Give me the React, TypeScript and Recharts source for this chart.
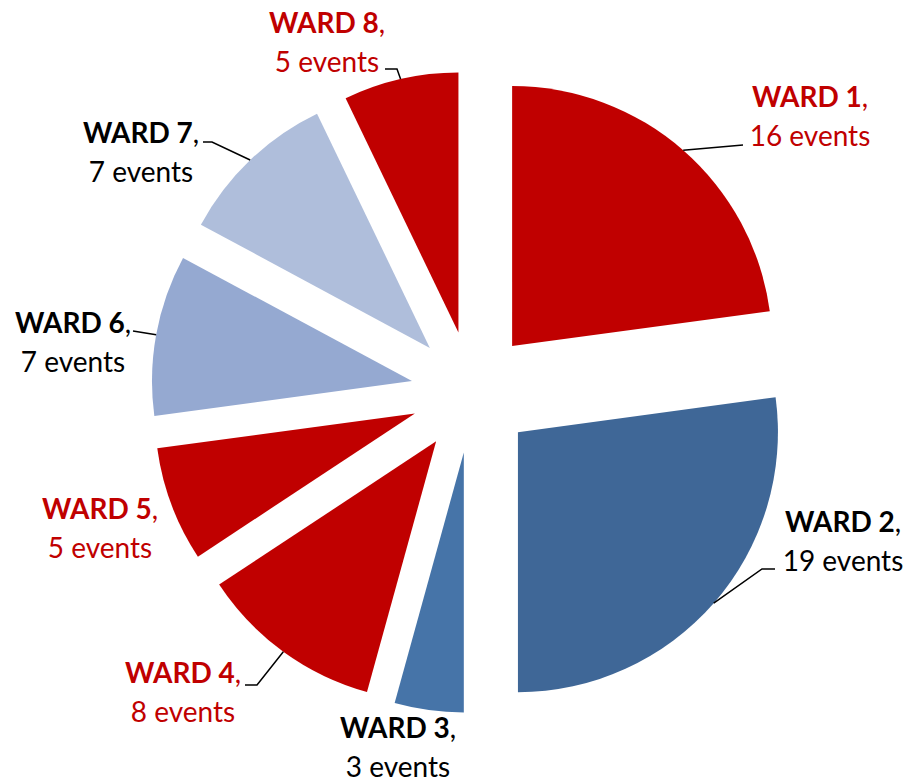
import { PieChart, Pie, Cell, Sector } from "recharts";

const wards = ["WARD 1", "WARD 2", "WARD 3", "WARD 4", "WARD 5", "WARD 6", "WARD 7", "WARD 8"];
const events = [16, 19, 3, 8, 5, 7, 7, 5];

const sliceColors = ["#C00000", "#3F6797", "#4674A8", "#C00000", "#C00000", "#95A9D1", "#AFBEDB", "#C00000"];
const labelColors = ["#C00000", "#000000", "#000000", "#C00000", "#C00000", "#000000", "#000000", "#C00000"];

// label first-line baseline, relative to the pie centre
const labelSpots = [
  [338, -285], [371, 140], [-74, 346], [-289, 291],
  [-372, 127], [-399, -59], [-331, -249], [-145, -359],
];
// leader line points after the slice edge, relative to the pie centre
const leaderPaths: number[][][] = [
  [[271, -247]],
  [[290, 177], [303, 177]],
  [],
  [[-215, 293], [-227, 293]],
  [],
  [[-339, -61]],
  [[-260, -250], [-269, -250]],
  [[-75, -323], [-87, -323]],
];

const data = wards.map((name, i) => ({ name, events: events[i] }));

const EXPLODE = 61;
const RAD = Math.PI / 180;

function ExplodedSlice(props: any) {
  const { cx, cy, midAngle, innerRadius, outerRadius, startAngle, endAngle, fill } = props;
  const dx = EXPLODE * Math.cos(-midAngle * RAD);
  const dy = EXPLODE * Math.sin(-midAngle * RAD);
  return (
    <Sector
      cx={cx + dx}
      cy={cy + dy}
      innerRadius={innerRadius}
      outerRadius={outerRadius}
      startAngle={startAngle}
      endAngle={endAngle}
      fill={fill}
      stroke="none"
    />
  );
}

function WardLabel(props: any) {
  const { cx, cy, midAngle, outerRadius, index, payload } = props;
  const ux = Math.cos(-midAngle * RAD);
  const uy = Math.sin(-midAngle * RAD);
  const sx = cx + (EXPLODE + outerRadius) * ux;
  const sy = cy + (EXPLODE + outerRadius) * uy;
  const [lx, ly] = labelSpots[index];
  const rest = leaderPaths[index].map(([x, y]) => `${cx + x},${cy + y}`);
  const tx = cx + lx;
  return (
    <g>
      {rest.length > 0 && (
        <polyline points={[`${sx},${sy}`, ...rest].join(" ")} fill="none" stroke="#000" strokeWidth={1.5} />
      )}
      <text x={tx} y={cy + ly} textAnchor="middle" fill={labelColors[index]} fontFamily="Lato" fontSize={28}>
        <tspan fontWeight="bold">{payload.name}</tspan>
        <tspan>,</tspan>
        <tspan x={tx} dy={39}>{payload.events} events</tspan>
      </text>
    </g>
  );
}

export default function App() {
  return (
    <div style={{ position: "absolute", left: 0, top: 0, background: "#fff" }}>
      <PieChart width={908} height={782} margin={{ top: 0, right: 0, bottom: 0, left: 0 }}>
        <Pie
          data={data}
          dataKey="events"
          nameKey="name"
          cx={472}
          cy={392}
          outerRadius={260}
          startAngle={90}
          endAngle={-270}
          stroke="none"
          shape={ExplodedSlice}
          label={WardLabel}
          labelLine={false}
          isAnimationActive={false}
        >
          {data.map((d, i) => (
            <Cell key={d.name} fill={sliceColors[i]} />
          ))}
        </Pie>
      </PieChart>
    </div>
  );
}
